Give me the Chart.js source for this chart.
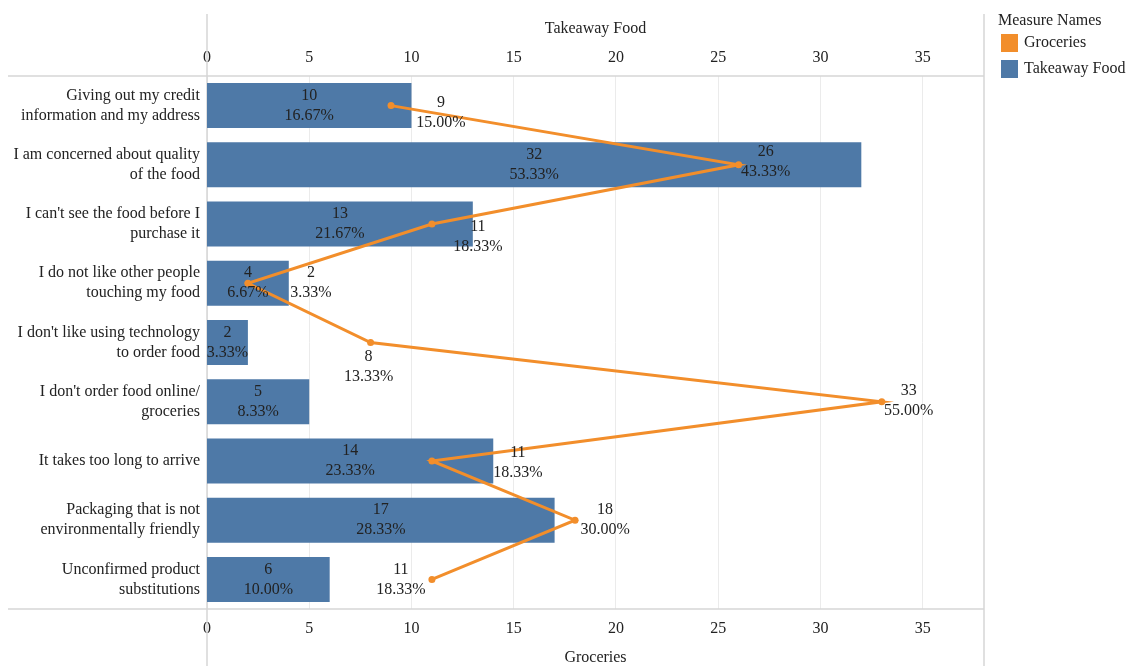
<!DOCTYPE html>
<html>
<head>
<meta charset="utf-8">
<script src="https://cdn.jsdelivr.net/npm/chart.js@4.4.1/dist/chart.umd.min.js"></script>
<style>
  html, body { margin: 0; padding: 0; background: #fff; }
  #wrap { position: relative; width: 1134px; height: 666px; }
  #legend { position: absolute; left: 0; top: 0; font-family: 'Liberation Serif', serif; font-size: 16px; color: #222; }
  #legend .lg-title { position: absolute; left: 998px; top: 11px; white-space: nowrap; }
  #legend .lg-item { position: absolute; left: 1024px; white-space: nowrap; }
  #legend .sw { position: absolute; left: -23px; top: 1px; width: 17px; height: 18px; }
</style>
</head>
<body>
<div id="wrap">
  <canvas id="chart" width="1134" height="666"></canvas>
  <div id="legend">
    <div class="lg-title">Measure Names</div>
    <div class="lg-item" style="top:33px"><span class="sw" style="background:#F28E2B"></span>Groceries</div>
    <div class="lg-item" style="top:59px"><span class="sw" style="background:#4E79A7"></span>Takeaway Food</div>
  </div>
</div>
<script>
// ─── Data ───
const categories = [
  ['Giving out my credit', 'information and my address'],
  ['I am concerned about quality', 'of the food'],
  ["I can't see the food before I", 'purchase it'],
  ['I do not like other people', 'touching my food'],
  ["I don't like using technology", 'to order food'],
  ["I don't order food online/", 'groceries'],
  ['It takes too long to arrive'],
  ['Packaging that is not', 'environmentally friendly'],
  ['Unconfirmed product', 'substitutions'],
];
const takeawayFood = [10, 32, 13, 4, 2, 5, 14, 17, 6];
const groceries = [9, 26, 11, 2, 8, 33, 11, 18, 11];
const respondents = 60;

// label nudges for the groceries line (px, relative to the point)
const groceriesLabelShift = [[50, 7], [27, -3], [46, 13], [63, 0], [-2, 24], [27, -1], [86, 2], [30, 0], [-31, 0]];

const FONT = { family: "'Liberation Serif', serif", size: 16, lineHeight: 1.25 };
const TEXT = '#222';
const BLUE = '#4E79A7';
const ORANGE = '#F28E2B';

const pct = v => (v / respondents * 100).toFixed(2) + '%';

// ─── Plugins ───
const paneLines = {
  id: 'paneLines',
  beforeDatasetsDraw(chart) {
    const { ctx, chartArea: a } = chart;
    ctx.save();
    ctx.strokeStyle = '#d6d6d6';
    ctx.lineWidth = 1.5;
    ctx.beginPath();
    ctx.moveTo(a.left, 14); ctx.lineTo(a.left, chart.height);
    ctx.moveTo(a.right, 14); ctx.lineTo(a.right, chart.height);
    ctx.moveTo(8, a.top); ctx.lineTo(a.right, a.top);
    ctx.moveTo(8, a.bottom); ctx.lineTo(a.right, a.bottom);
    ctx.stroke();
    ctx.restore();
  }
};

const valueLabels = {
  id: 'valueLabels',
  afterDatasetsDraw(chart) {
    const { ctx } = chart;
    ctx.save();
    ctx.font = `${FONT.size}px ${FONT.family}`;
    ctx.fillStyle = '#222';
    ctx.textAlign = 'center';
    ctx.textBaseline = 'middle';

    chart.getDatasetMeta(1).data.forEach((bar, i) => {
      const cx = (bar.base + bar.x) / 2;
      ctx.fillText(String(takeawayFood[i]), cx, bar.y - 10);
      ctx.fillText(pct(takeawayFood[i]), cx, bar.y + 10);
    });

    chart.getDatasetMeta(0).data.forEach((pt, i) => {
      const [dx, dy] = groceriesLabelShift[i];
      ctx.fillText(String(groceries[i]), pt.x + dx, pt.y + dy - 10);
      ctx.fillText(pct(groceries[i]), pt.x + dx, pt.y + dy + 10);
    });
    ctx.restore();
  }
};

// ─── Chart ───
new Chart(document.getElementById('chart'), {
  type: 'bar',
  data: {
    labels: categories,
    datasets: [
      {
        type: 'line',
        label: 'Groceries',
        data: groceries,
        indexAxis: 'y',
        xAxisID: 'x',
        yAxisID: 'y',
        borderColor: ORANGE,
        backgroundColor: ORANGE,
        borderWidth: 3,
        pointRadius: 3.5,
        pointBorderWidth: 0,
        tension: 0,
        order: 0,
      },
      {
        type: 'bar',
        label: 'Takeaway Food',
        data: takeawayFood,
        indexAxis: 'y',
        xAxisID: 'x2',
        yAxisID: 'y',
        backgroundColor: BLUE,
        categoryPercentage: 1,
        barPercentage: 0.76,
        order: 1,
      },
    ],
  },
  options: {
    indexAxis: 'y',
    responsive: false,
    animation: false,
    devicePixelRatio: 1,
    layout: { padding: { left: 0, right: 150, top: 0, bottom: 0 } },
    plugins: {
      legend: { display: false },
      tooltip: { enabled: false },
    },
    scales: {
      x: {
        type: 'linear',
        position: 'bottom',
        min: 0,
        max: 38,
        ticks: { stepSize: 5, includeBounds: false, padding: 10, color: TEXT, font: FONT, maxRotation: 0 },
        grid: { color: '#ebebeb', drawTicks: false },
        border: { display: false },
        title: { display: true, text: 'Groceries', color: TEXT, font: FONT, padding: { top: 0, bottom: -2 } },
        afterFit: s => { s.height = 57; },
      },
      x2: {
        type: 'linear',
        position: 'top',
        min: 0,
        max: 38,
        ticks: { stepSize: 5, includeBounds: false, padding: 8, color: TEXT, font: FONT, maxRotation: 0 },
        grid: { display: false, drawTicks: false },
        border: { display: false },
        title: { display: true, text: 'Takeaway Food', color: TEXT, font: FONT, padding: { top: 19, bottom: 0 } },
        afterFit: s => { s.height = 76; },
      },
      y: {
        type: 'category',
        position: 'left',
        offset: true,
        ticks: { padding: 7, color: TEXT, font: FONT },
        grid: { display: false, drawTicks: false },
        border: { display: false },
        afterFit: s => { s.width = 207; },
      },
    },
  },
  plugins: [paneLines, valueLabels],
});
</script>
</body>
</html>
